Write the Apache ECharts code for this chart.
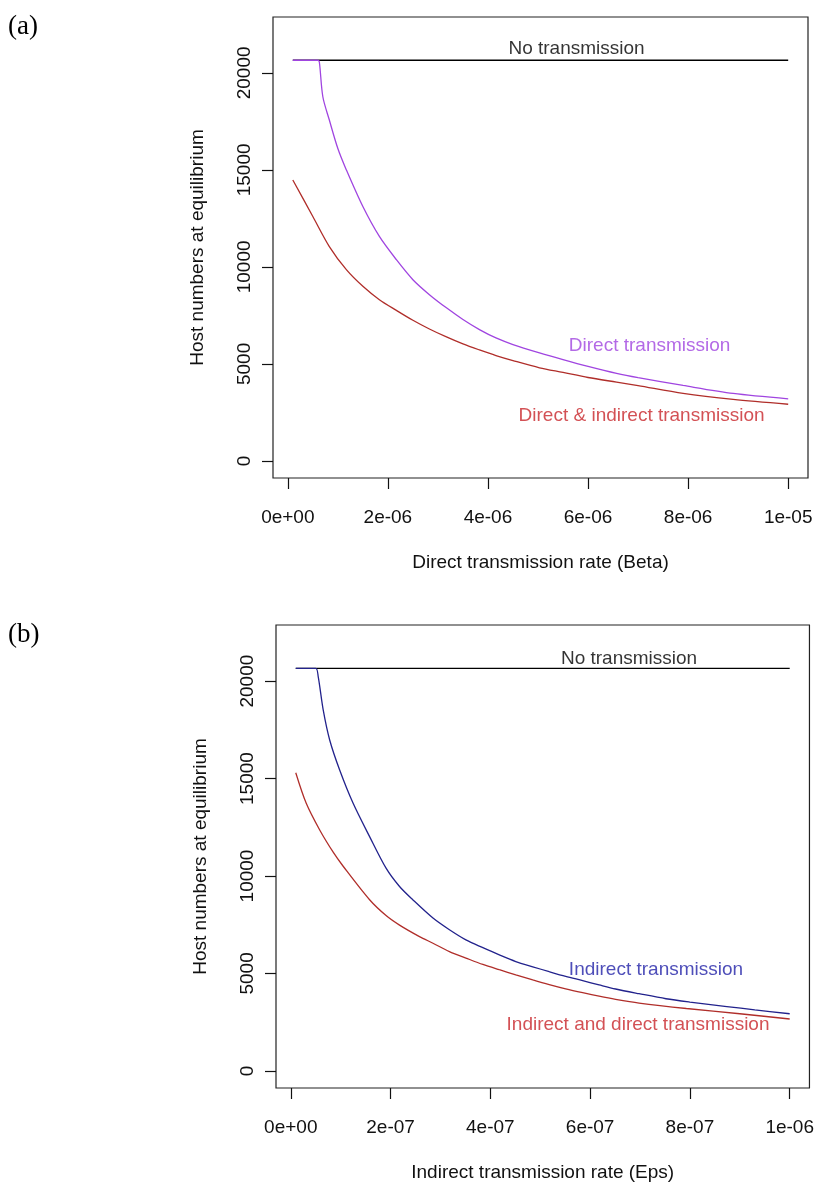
<!DOCTYPE html>
<html>
<head>
<meta charset="utf-8">
<script src="https://cdn.jsdelivr.net/npm/echarts@6/dist/echarts.min.js"></script>
<style>
  html, body { margin: 0; padding: 0; background: #fff; }
  #chart { width: 817px; height: 1187px; }
</style>
</head>
<body>
<div id="chart"></div>
<script>
// ---- Panel (a): host numbers vs direct transmission rate (Beta) ----
const betaNone = [1e-7, 1e-5];
const hostNoneA = [20650, 20650];

const betaDirect = [1e-7, 6.0e-7, 6.3e-7, 7.0e-7, 8.3e-7, 1.0e-6, 1.17e-6, 1.5e-6, 1.83e-6,
  2.17e-6, 2.5e-6, 2.83e-6, 3.17e-6, 3.5e-6, 3.83e-6, 4.16e-6, 4.5e-6, 5.03e-6, 5.5e-6,
  6.0e-6, 6.57e-6, 7.0e-6, 7.9e-6, 8.9e-6, 1.0e-5];
const hostDirect = [20650, 20650, 20560, 18770, 17570, 16100, 15000, 13110, 11570,
  10370, 9340, 8570, 7890, 7290, 6770, 6340, 6000, 5570, 5220,
  4870, 4510, 4290, 3890, 3480, 3200];

const betaBoth = [1e-7, 5e-7, 8.3e-7, 1.17e-6, 1.5e-6, 1.83e-6, 2.17e-6, 2.5e-6, 2.83e-6,
  3.17e-6, 3.5e-6, 3.83e-6, 4.16e-6, 4.5e-6, 5.03e-6, 5.5e-6, 6.0e-6, 6.57e-6, 7.0e-6,
  7.9e-6, 8.9e-6, 1.0e-5];
const hostBothA = [14480, 12600, 11050, 9860, 9000, 8310, 7760, 7250, 6800,
  6390, 6030, 5720, 5430, 5170, 4800, 4560, 4300, 4060, 3880,
  3480, 3170, 2920];

// ---- Panel (b): host numbers vs indirect transmission rate (Eps) ----
const epsNone = [1e-8, 1e-6];
const hostNoneB = [20650, 20650];

const epsIndirect = [1e-8, 5e-8, 5.5e-8, 6.5e-8, 7.8e-8, 9.8e-8, 1.25e-7, 1.58e-7, 1.91e-7,
  2.18e-7, 2.45e-7, 2.85e-7, 3.18e-7, 3.51e-7, 3.85e-7, 4.18e-7, 4.51e-7, 4.85e-7, 5.18e-7,
  5.51e-7, 5.85e-7, 6.18e-7, 6.51e-7, 6.98e-7, 7.52e-7, 8.0e-7, 8.74e-7, 9.3e-7, 1.0e-6];
const hostIndirect = [20650, 20650, 20230, 18520, 16980, 15440, 13730, 12020, 10400,
  9460, 8770, 7840, 7240, 6720, 6320, 5950, 5610, 5340, 5090,
  4850, 4630, 4410, 4200, 3960, 3700, 3530, 3300, 3130, 2930];

const epsBoth = [1e-8, 3.1e-8, 5.8e-8, 8.5e-8, 1.05e-7, 1.58e-7, 1.91e-7, 2.18e-7, 2.58e-7,
  2.85e-7, 3.18e-7, 3.51e-7, 3.85e-7, 4.18e-7, 4.51e-7, 4.85e-7, 5.18e-7, 5.51e-7, 5.85e-7,
  6.18e-7, 6.51e-7, 6.98e-7, 7.93e-7, 9.0e-7, 1.0e-6];
const hostBothB = [15300, 13730, 12360, 11220, 10500, 8780, 7970, 7480, 6890,
  6550, 6120, 5790, 5460, 5190, 4930, 4670, 4430, 4210, 4010,
  3830, 3670, 3480, 3200, 2930, 2660];

// ---- Axis ticks and labels ----
const xTicksA = [0, 2e-6, 4e-6, 6e-6, 8e-6, 1e-5];
const xLabelsA = ['0e+00', '2e-06', '4e-06', '6e-06', '8e-06', '1e-05'];
const xTicksB = [0, 2e-7, 4e-7, 6e-7, 8e-7, 1e-6];
const xLabelsB = ['0e+00', '2e-07', '4e-07', '6e-07', '8e-07', '1e-06'];
const yTicks = [0, 5000, 10000, 15000, 20000];
const yLabels = ['0', '5000', '10000', '15000', '20000'];
const yLimits = [0, 22000];

// ---- Curve annotations (text, x, y in data units) ----
const notesA = [
  ['No transmission', 5.77e-6, 21220, '#000000'],
  ['Direct transmission', 7.23e-6, 5910, '#A045E0'],
  ['Direct & indirect transmission', 7.07e-6, 2350, '#C8262B']
];
const notesB = [
  ['No transmission', 6.78e-7, 21170, '#000000'],
  ['Indirect transmission', 7.32e-7, 5190, '#2222A8'],
  ['Indirect and direct transmission', 6.96e-7, 2360, '#C8262B']
];

const FONT = "'Liberation Sans', Arial, sans-serif";
const COL_PURPLE = '#A045E0';
const COL_RED = '#B02E2A';
const COL_BLUE = '#22228C';

// R-style 4% padding around a data range
function padRange(lo, hi) {
  const d = (hi - lo) * 0.04;
  return [lo - d, hi + d];
}
function pairs(xs, ys) { return xs.map((x, i) => [x, ys[i]]); }
function labelFor(ticks, labels) {
  return v => {
    const i = ticks.findIndex(t => Math.abs(t - v) <= Math.abs(ticks[ticks.length - 1]) * 1e-6);
    return i >= 0 ? labels[i] : '';
  };
}

const xRangeA = padRange(betaNone[0], betaNone[1]);
const xRangeB = padRange(epsNone[0], epsNone[1]);
const yRange = padRange(yLimits[0], yLimits[1]);

function xAxisDef(gridIndex, range, ticks, labels, name) {
  return {
    type: 'value', gridIndex, min: range[0], max: range[1],
    name, nameLocation: 'middle', nameGap: 75,
    nameTextStyle: { fontFamily: FONT, fontSize: 19, color: '#111' },
    axisLine: { show: false, onZero: false },
    axisTick: { show: true, inside: false, length: 11, customValues: ticks,
      lineStyle: { color: '#111', width: 1.2 } },
    axisLabel: { show: true, customValues: ticks, formatter: labelFor(ticks, labels),
      margin: 30, fontFamily: FONT, fontSize: 19, color: '#111' },
    splitLine: { show: false }
  };
}
function yAxisDef(gridIndex) {
  return {
    type: 'value', gridIndex, min: yRange[0], max: yRange[1],
    name: 'Host numbers at equilibrium', nameLocation: 'middle', nameGap: 66,
    nameRotate: 90,
    nameTextStyle: { fontFamily: FONT, fontSize: 19, color: '#111' },
    axisLine: { show: false, onZero: false },
    axisTick: { show: true, inside: false, length: 11, customValues: yTicks,
      lineStyle: { color: '#111', width: 1.2 } },
    axisLabel: { show: true, rotate: 90, customValues: yTicks,
      formatter: labelFor(yTicks, yLabels),
      margin: 19, fontFamily: FONT, fontSize: 19, color: '#111' },
    splitLine: { show: false }
  };
}
function lineDef(idx, data, color) {
  return {
    type: 'line', xAxisIndex: idx, yAxisIndex: idx, data,
    showSymbol: false, smooth: 0.3, silent: true,
    lineStyle: { color, width: 1.3 }
  };
}
function notesDef(idx, notes) {
  return {
    type: 'scatter', xAxisIndex: idx, yAxisIndex: idx, silent: true,
    symbolSize: 1, itemStyle: { color: 'rgba(0,0,0,0)' },
    data: notes.map(n => ({
      name: n[0], value: [n[1], n[2]],
      label: { show: true, position: 'inside', formatter: n[0],
        fontFamily: FONT, fontSize: 19, color: n[3] }
    }))
  };
}

const chart = echarts.init(document.getElementById('chart'), null, { renderer: 'canvas' });
chart.setOption({
  animation: false,
  backgroundColor: '#ffffff',
  grid: [
    { left: 273, top: 17, width: 535, height: 461, show: true,
      borderColor: '#222', borderWidth: 1.2, backgroundColor: 'transparent' },
    { left: 276, top: 625, width: 535, height: 463, show: true,
      borderColor: '#222', borderWidth: 1.2, backgroundColor: 'transparent' }
  ],
  xAxis: [
    xAxisDef(0, xRangeA, xTicksA, xLabelsA, 'Direct transmission rate (Beta)'),
    xAxisDef(1, xRangeB, xTicksB, xLabelsB, 'Indirect transmission rate (Eps)')
  ],
  yAxis: [yAxisDef(0), yAxisDef(1)],
  graphic: [
    { type: 'text', left: 8, top: 13,
      style: { text: '(a)', fontFamily: "'Liberation Serif', 'Times New Roman', serif",
        fontSize: 27, fill: '#000' } },
    { type: 'text', left: 8, top: 621,
      style: { text: '(b)', fontFamily: "'Liberation Serif', 'Times New Roman', serif",
        fontSize: 27, fill: '#000' } }
  ],
  series: [
    lineDef(0, pairs(betaNone, hostNoneA), '#000000'),
    lineDef(0, pairs(betaDirect, hostDirect), COL_PURPLE),
    lineDef(0, pairs(betaBoth, hostBothA), COL_RED),
    notesDef(0, notesA),
    lineDef(1, pairs(epsNone, hostNoneB), '#000000'),
    lineDef(1, pairs(epsIndirect, hostIndirect), COL_BLUE),
    lineDef(1, pairs(epsBoth, hostBothB), COL_RED),
    notesDef(1, notesB)
  ]
});
</script>
</body>
</html>
